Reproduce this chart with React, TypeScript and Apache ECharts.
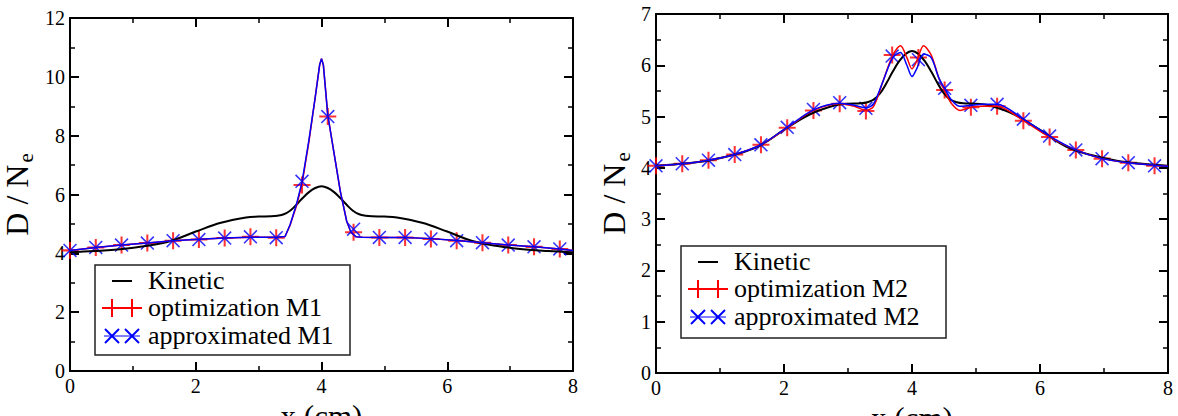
import React, { useEffect, useRef } from 'react';
import * as echarts from 'echarts';

// marker abscissae (both panels)
const markX = [0, 0.41, 0.82, 1.23, 1.64, 2.05, 2.46, 2.87, 3.28, 3.69, 4.1, 4.51, 4.92, 5.33, 5.74, 6.15, 6.56, 6.97, 7.38, 7.79];

// Kinetic reference (black)
const kinX = [0, 0.4, 0.8, 1.2, 1.6, 2.0, 2.4, 2.8, 3.0, 3.2, 3.3, 3.4, 3.5, 3.6, 3.7, 3.8, 3.9, 4.0, 4.1, 4.2, 4.3, 4.4, 4.5, 4.6, 4.7, 4.8, 5.0, 5.2, 5.6, 6.0, 6.4, 6.8, 7.2, 7.6, 8.0];
const kinY = [4.04, 4.08, 4.14, 4.25, 4.42, 4.74, 5.04, 5.22, 5.25, 5.26, 5.28, 5.33, 5.45, 5.65, 5.88, 6.08, 6.22, 6.28, 6.22, 6.08, 5.88, 5.65, 5.45, 5.33, 5.28, 5.26, 5.25, 5.22, 5.04, 4.74, 4.42, 4.25, 4.14, 4.08, 4.04];

// Left panel (M1)
const leftLineX = [0, 0.41, 0.82, 1.23, 1.64, 2.05, 2.46, 2.87, 3.28, 3.42, 3.5, 3.6, 3.69, 3.8, 3.9, 3.97, 4.0, 4.03, 4.1, 4.2, 4.3, 4.4, 4.47, 4.55, 4.65, 4.92, 5.33, 5.74, 6.15, 6.56, 6.97, 7.38, 7.79, 8.0];
const leftOptY = [4.1, 4.2, 4.28, 4.35, 4.43, 4.48, 4.52, 4.55, 4.55, 4.57, 4.95, 5.6, 6.35, 7.8, 9.3, 10.4, 10.62, 10.4, 8.7, 7.4, 6.1, 5.1, 4.7, 4.56, 4.55, 4.54, 4.54, 4.5, 4.44, 4.36, 4.28, 4.22, 4.15, 4.1];
const leftApxY = [4.1, 4.2, 4.28, 4.35, 4.43, 4.48, 4.52, 4.55, 4.55, 4.57, 4.97, 5.65, 6.42, 7.85, 9.3, 10.4, 10.62, 10.4, 8.7, 7.4, 6.1, 5.1, 4.72, 4.56, 4.55, 4.54, 4.54, 4.5, 4.44, 4.36, 4.28, 4.22, 4.15, 4.1];
const leftOptMarks = [4.1, 4.2, 4.28, 4.35, 4.43, 4.47, 4.52, 4.56, 4.53, 6.32, 8.65, 4.72, 4.54, 4.54, 4.49, 4.43, 4.36, 4.28, 4.22, 4.15];
const leftApxMarks = [4.1, 4.2, 4.28, 4.35, 4.43, 4.47, 4.52, 4.56, 4.53, 6.45, 8.65, 4.82, 4.54, 4.54, 4.49, 4.43, 4.36, 4.28, 4.22, 4.15];

// Right panel (M2)
const rightLineX = [0, 0.41, 0.82, 1.23, 1.64, 2.05, 2.46, 2.87, 3.1, 3.28, 3.4, 3.55, 3.7, 3.82, 3.92, 4.0, 4.08, 4.18, 4.3, 4.42, 4.51, 4.62, 4.75, 4.92, 5.1, 5.33, 5.74, 6.15, 6.56, 6.97, 7.38, 7.79, 8.0];
const rightOptY = [4.04, 4.08, 4.15, 4.26, 4.45, 4.78, 5.12, 5.25, 5.2, 5.12, 5.2, 5.7, 6.2, 6.38, 6.15, 5.93, 6.1, 6.38, 6.2, 5.75, 5.5, 5.25, 5.12, 5.18, 5.2, 5.2, 4.92, 4.6, 4.35, 4.18, 4.1, 4.05, 4.03];
const rightApxY = [4.04, 4.08, 4.15, 4.26, 4.45, 4.79, 5.13, 5.26, 5.22, 5.17, 5.25, 5.7, 6.15, 6.25, 6.0, 5.78, 5.95, 6.22, 6.15, 5.75, 5.55, 5.32, 5.2, 5.22, 5.24, 5.24, 4.95, 4.62, 4.35, 4.18, 4.1, 4.05, 4.03];
const rightOptMarks = [4.04, 4.08, 4.15, 4.26, 4.45, 4.78, 5.12, 5.25, 5.11, 6.2, 6.15, 5.52, 5.18, 5.2, 4.92, 4.6, 4.35, 4.18, 4.1, 4.04];
const rightApxMarks = [4.04, 4.08, 4.15, 4.26, 4.45, 4.79, 5.14, 5.27, 5.16, 6.18, 6.11, 5.55, 5.22, 5.24, 4.95, 4.62, 4.35, 4.18, 4.1, 4.04];

const leftLabels = ['Kinetic', 'optimization M1', 'approximated M1'];
const rightLabels = ['Kinetic', 'optimization M2', 'approximated M2'];

const FONT = 'Liberation Serif';
const RED = '#ff0000';
const BLUE = '#0000ff';

const zip = (xs: number[], ys: number[]) => xs.map((x, i) => [x, ys[i]]);

const PLUS = 'path://M0,4.4H10V5.6H0Z M4.4,0H5.6V10H4.4Z';
const CROSS = 'path://M0,0.8L0.8,0L10,9.2L9.2,10Z M9.2,0L10,0.8L0.8,10L0,9.2Z';

const tickLabel = {
  margin: 5,
  formatter: '{t|{value}}',
  rich: { t: { fontFamily: FONT, fontSize: 20, color: '#000' } },
};

function xAxes(grid: number) {
  const common: any = {
    gridIndex: grid,
    type: 'value',
    min: 0,
    max: 8,
    interval: 2,
    axisLine: { show: true, onZero: false, lineStyle: { color: '#000', width: 2 } },
    axisTick: { show: true, inside: true, length: 9, lineStyle: { color: '#000', width: 2 } },
    minorTick: { show: true, splitNumber: 2, length: 5, lineStyle: { color: '#000', width: 1.5 } },
    splitLine: { show: false },
    minorSplitLine: { show: false },
  };
  return [
    {
      ...common,
      position: 'bottom',
      axisLabel: tickLabel,
      name: 'x (cm)',
      nameLocation: 'middle',
      nameGap: 16,
      nameTextStyle: { color: '#000', fontSize: 31, fontFamily: FONT, verticalAlign: 'top' },
    },
    { ...common, position: 'top', axisLabel: { show: false } },
  ];
}

function yAxes(grid: number, max: number, interval: number, gap: number) {
  const common: any = {
    gridIndex: grid,
    type: 'value',
    min: 0,
    max,
    interval,
    axisLine: { show: true, onZero: false, lineStyle: { color: '#000', width: 2 } },
    axisTick: { show: true, inside: true, length: 9, lineStyle: { color: '#000', width: 2 } },
    minorTick: { show: true, splitNumber: 2, length: 5, lineStyle: { color: '#000', width: 1.5 } },
    splitLine: { show: false },
    minorSplitLine: { show: false },
  };
  return [
    {
      ...common,
      position: 'left',
      axisLabel: tickLabel,
      name: '{n|D / N}{s|e}',
      nameLocation: 'middle',
      nameGap: gap,
      nameTextStyle: {
        color: '#000',
        fontSize: 32,
        fontFamily: FONT,
        rich: {
          n: { fontFamily: FONT, fontSize: 32, color: '#000' },
          s: { fontSize: 21, fontFamily: FONT, color: '#000', padding: [18, 0, 0, 2] },
        },
      },
    },
    { ...common, position: 'right', axisLabel: { show: false } },
  ];
}

function legendElements(left: number, top: number, w: number, h: number, labels: string[]) {
  const r1 = top + 16, r2 = top + 43, r3 = top + 71;
  const tx = left + 53;
  const txt = (t: string, cy: number) => ({
    type: 'text',
    x: tx,
    y: cy - 14,
    style: { text: t, fontFamily: FONT, fontSize: 26, fill: '#000' },
  });
  const ln = (x1: number, y1: number, x2: number, y2: number, c: string, lw: number) => ({
    type: 'line',
    shape: { x1: left + x1, y1, x2: left + x2, y2 },
    style: { stroke: c, lineWidth: lw },
  });
  return [
    { type: 'rect', shape: { x: left, y: top, width: w, height: h }, style: { fill: '#fff', stroke: '#222', lineWidth: 1.5 } },
    ln(17, r1, 37, r1, '#000', 2),
    txt(labels[0], r1),
    ln(7, r2, 47, r2, RED, 2),
    ln(17, r2 - 9, 17, r2 + 9, RED, 2),
    ln(37, r2 - 9, 37, r2 + 9, RED, 2),
    txt(labels[1], r2),
    ln(9, r3, 45, r3, BLUE, 1),
    ln(10, r3 - 7, 24, r3 + 7, BLUE, 2),
    ln(10, r3 + 7, 24, r3 - 7, BLUE, 2),
    ln(30, r3 - 7, 44, r3 + 7, BLUE, 2),
    ln(30, r3 + 7, 44, r3 - 7, BLUE, 2),
    txt(labels[2], r3),
  ];
}

function lineSeries(name: string, data: number[][], xi: number, yi: number, color: string, width: number, smooth: number | boolean) {
  return {
    name,
    type: 'line',
    xAxisIndex: xi,
    yAxisIndex: yi,
    data,
    showSymbol: false,
    symbol: 'none',
    smooth,
    lineStyle: { color, width },
    silent: true,
  };
}

function markSeries(name: string, data: number[][], xi: number, yi: number, color: string, symbol: string, size: number) {
  return {
    name,
    type: 'scatter',
    xAxisIndex: xi,
    yAxisIndex: yi,
    data,
    symbol,
    symbolSize: size,
    itemStyle: { color },
    silent: true,
  };
}

export default function App() {
  const ref = useRef<HTMLDivElement>(null);
  useEffect(() => {
    document.body.style.margin = '0';
    const chart = echarts.init(ref.current!, null, { renderer: 'svg' });
    const option: any = {
      animation: false,
      backgroundColor: '#fff',
      grid: [
        { left: 70, top: 18, width: 503, height: 353, containLabel: false, outerBoundsMode: 'none' },
        { left: 656, top: 14, width: 512, height: 359, containLabel: false, outerBoundsMode: 'none' },
      ],
      xAxis: [...xAxes(0), ...xAxes(1)],
      yAxis: [...yAxes(0, 12, 2, 34), ...yAxes(1, 7, 1, 23)],
      series: [
        lineSeries('Kinetic', zip(kinX, kinY), 0, 0, '#000', 2, 0.4),
        lineSeries('optimization M1', zip(leftLineX, leftOptY), 0, 0, RED, 1.5, false),
        markSeries('optimization M1 points', zip(markX, leftOptMarks), 0, 0, RED, PLUS, 17),
        lineSeries('approximated M1', zip(leftLineX, leftApxY), 0, 0, BLUE, 1.5, false),
        markSeries('approximated M1 points', zip(markX, leftApxMarks), 0, 0, BLUE, CROSS, 14),

        lineSeries('Kinetic', zip(kinX, kinY), 2, 2, '#000', 2, 0.4),
        lineSeries('optimization M2', zip(rightLineX, rightOptY), 2, 2, RED, 1.5, 0.3),
        markSeries('optimization M2 points', zip(markX, rightOptMarks), 2, 2, RED, PLUS, 17),
        lineSeries('approximated M2', zip(rightLineX, rightApxY), 2, 2, BLUE, 1.5, 0.3),
        markSeries('approximated M2 points', zip(markX, rightApxMarks), 2, 2, BLUE, CROSS, 14),
      ],
      graphic: [
        ...legendElements(95, 265, 255, 90, leftLabels),
        ...legendElements(681, 246, 265, 92, rightLabels),
      ],
    };
    chart.setOption(option);
    return () => chart.dispose();
  }, []);
  return <div ref={ref} style={{ width: 1178, height: 416 }} />;
}
